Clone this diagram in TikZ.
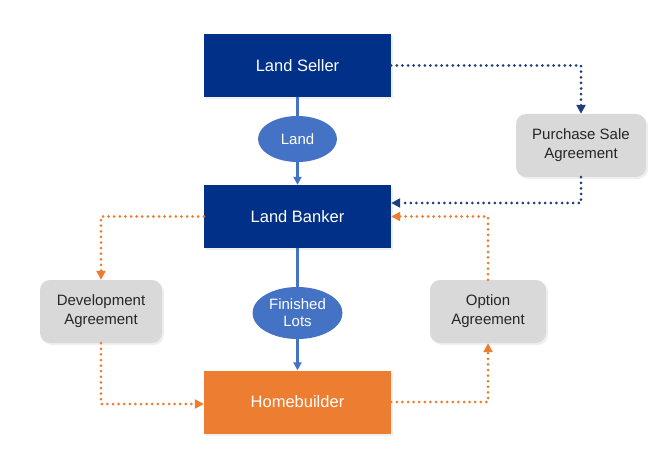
\documentclass[tikz,border=0pt]{standalone}
\usepackage{fontspec}
\setmainfont{Liberation Sans}
\usetikzlibrary{arrows.meta,shapes.geometric,shadows}
\definecolor{navy}{HTML}{003087}
\definecolor{navydot}{HTML}{1F3F7A}
\definecolor{orng}{HTML}{ED7D31}
\definecolor{ellblue}{HTML}{4472C4}
\definecolor{greybox}{HTML}{D9D9D9}
\tikzset{
  mainbox/.style={rectangle, draw=none, minimum width=187pt, minimum height=63pt, inner sep=0pt,
    text=white, font=\fontsize{16.5}{19}\selectfont,
    drop shadow={opacity=0.12, shadow xshift=2pt, shadow yshift=-2pt}},
  agreebox/.style={rectangle, rounded corners=10pt, fill=greybox, draw=none, minimum height=63pt,
    inner sep=0pt, align=center, text=black!85, font=\fontsize{15}{19}\selectfont,
    drop shadow={opacity=0.12, shadow xshift=2pt, shadow yshift=-2pt}},
  ell/.style={ellipse, fill=ellblue, draw=none, inner sep=0pt, align=center, text=white,
    font=\fontsize{15}{18}\selectfont},
  blueline/.style={draw=ellblue, line width=2.2pt},
  bluearrow/.style={blueline, -{Triangle[length=8pt,width=8pt]}},
  navydots/.style={draw=navydot, line width=3pt, line cap=round, dash pattern=on 0pt off 5.6pt,
    -{Triangle[length=9pt,width=9pt]}},
  orangedots/.style={draw=orng, line width=3pt, line cap=round, dash pattern=on 0pt off 5.6pt,
    -{Triangle[length=9pt,width=9pt]}}
}
\begin{document}
\begin{tikzpicture}[x=1pt,y=-1pt]
\useasboundingbox[fill=white] (0,0) rectangle (666,470);

\node[mainbox, fill=navy] (seller) at (297.5,65.5) {Land Seller};
\node[mainbox, fill=navy] (banker) at (297.5,216.5) {Land Banker};
\node[mainbox, fill=orng] (home) at (297.5,402) {Homebuilder};

\node[ell, minimum width=79pt, minimum height=46pt] (land) at (297.5,139) {Land};
\node[ell, minimum width=90pt, minimum height=52pt] (lots) at (297.5,313) {Finished\\[-1pt]Lots};

\node[agreebox, minimum width=130pt] (psa) at (581,145.5) {Purchase Sale\\Agreement};
\node[agreebox, minimum width=122pt] (dev) at (101,311.5) {Development\\Agreement};
\node[agreebox, minimum width=116pt] (opt) at (488,311.5) {Option\\Agreement};

\draw[blueline] (seller) -- (land);
\draw[bluearrow] (land) -- (banker);
\draw[blueline] (banker) -- (lots);
\draw[bluearrow] (lots) -- (home);

\draw[navydots] (seller.east) -| (psa.north);
\draw[navydots] (psa.south) |- ([yshift=13.5pt]banker.east);

\draw[orangedots] (banker.west) -| (dev.north);
\draw[orangedots] (dev.south) |- ([yshift=-2pt]home.west);
\draw[orangedots] (home.east) -| (opt.south);
\draw[orangedots] (opt.north) |- (banker.east);
\end{tikzpicture}
\end{document}
